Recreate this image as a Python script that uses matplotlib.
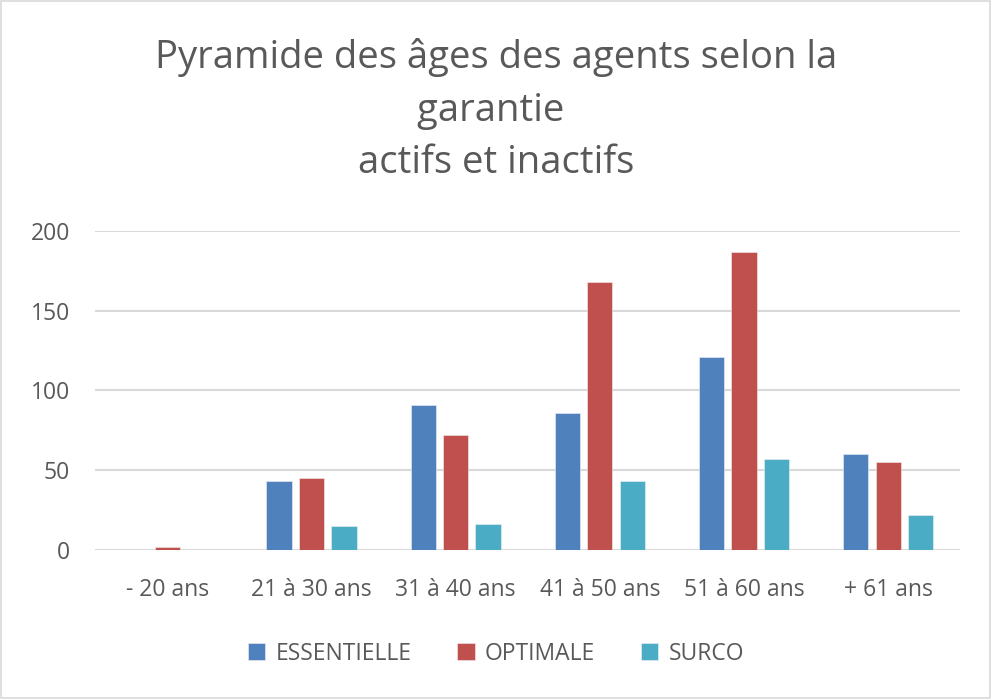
import numpy as np
import matplotlib.pyplot as plt
from matplotlib.patches import Rectangle

categories = ['- 20 ans', '21 à 30 ans', '31 à 40 ans', '41 à 50 ans', '51 à 60 ans', '+ 61 ans']
essentielle = [0, 43, 91, 86, 121, 60]
optimale = [2, 45, 72, 168, 187, 55]
surco = [0, 15, 16, 43, 57, 22]

series = [('ESSENTIELLE', essentielle, '#4F81BD'),
          ('OPTIMALE', optimale, '#C0504D'),
          ('SURCO', surco, '#4BACC6')]

plt.rcParams['font.family'] = ['Open Sans', 'DejaVu Sans']
grey = '#595959'

fig = plt.figure(figsize=(9.92, 6.99), dpi=100)
ax = fig.add_axes([0.096, 0.2132, 0.872, 0.4563])

x = np.arange(len(categories))
w = 0.175
step = 0.225
for i, (name, vals, col) in enumerate(series):
    ax.bar(x + (i - 1) * step, vals, width=w, color=col, label=name,
           edgecolor='#f0f0f0', linewidth=0.4, zorder=3)

ax.set_xlim(-0.5, len(categories) - 0.5)
ax.set_ylim(0, 200)
ax.set_yticks([0, 50, 100, 150, 200])
ax.yaxis.grid(True, color='#d9d9d9', linewidth=1.5, zorder=0)
ax.set_axisbelow(True)
for s in ax.spines.values():
    s.set_visible(False)
ax.tick_params(axis='both', length=0, colors=grey, labelsize=16.5)
ax.tick_params(axis='x', pad=20)
ax.tick_params(axis='y', pad=18)
ax.set_xticks(x)
ax.set_xticklabels(categories)

fig.text(0.5, 0.842, 'Pyramide des âges des agents selon la\ngarantie \nactifs et inactifs',
         ha='center', va='center', fontsize=27.5, color=grey, linespacing=1.5)

ax.legend(loc='center', bbox_to_anchor=(0.5, 0.065), bbox_transform=fig.transFigure,
          ncol=3, frameon=False, fontsize=16.5, labelcolor=grey,
          handlelength=0.75, handleheight=0.75, handletextpad=0.45, columnspacing=2.0)

fig.patches.append(Rectangle((0.001, 0.001), 0.997, 0.997, transform=fig.transFigure,
                             fill=False, edgecolor='#d9d9d9', linewidth=1.2))

fig.savefig('out.png', dpi=100)
